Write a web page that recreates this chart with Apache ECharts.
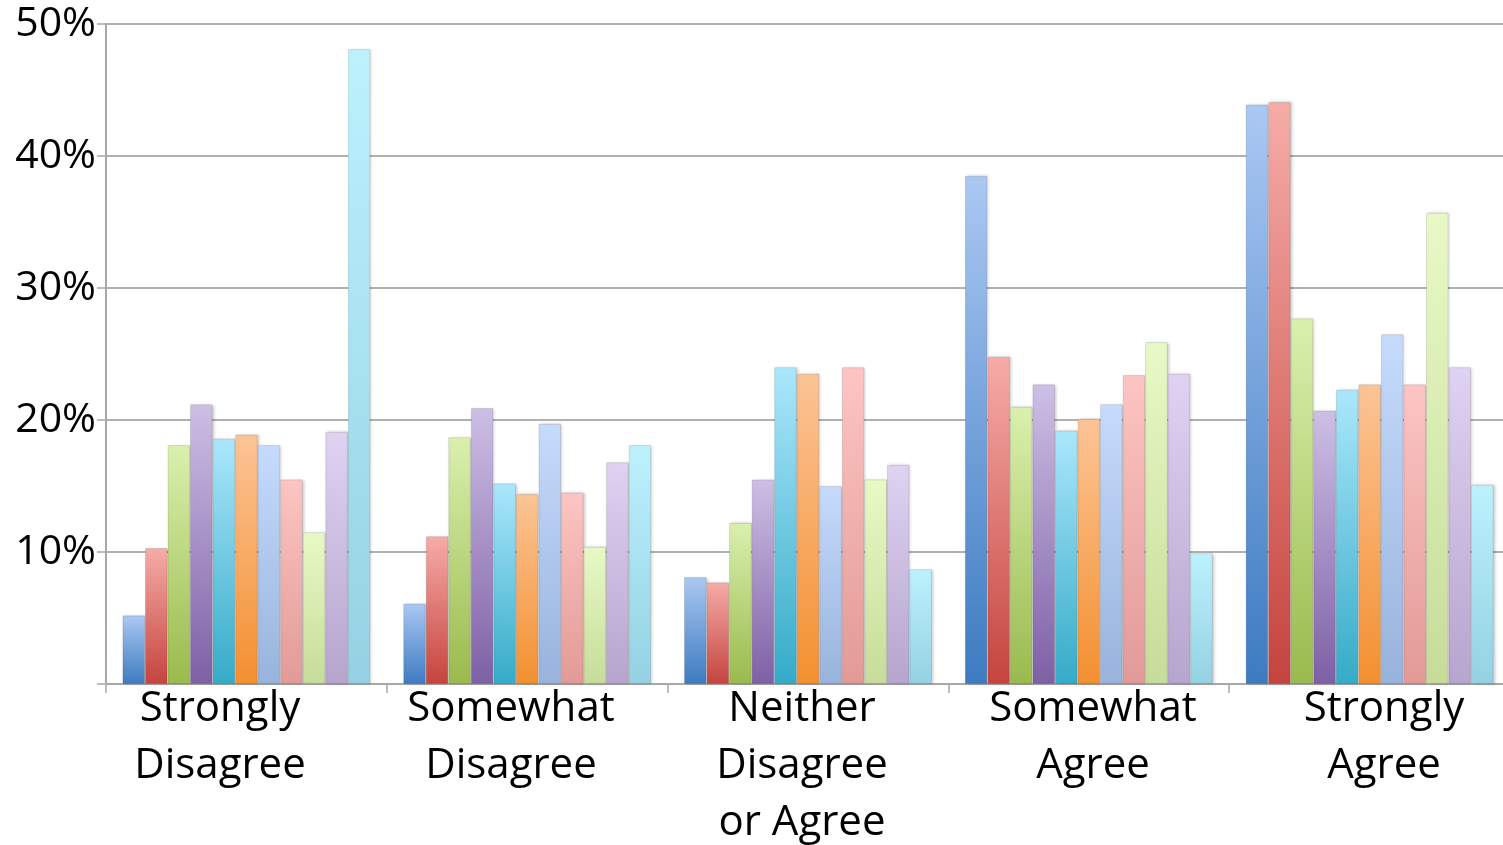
<!DOCTYPE html>
<html>
<head>
<meta charset="utf-8">
<title>Agreement distribution</title>
<script src="https://cdn.jsdelivr.net/npm/echarts@6/dist/echarts.min.js"></script>
<style>
  html, body { margin: 0; padding: 0; background: #ffffff; }
  #chart { width: 1503px; height: 845px; }
</style>
</head>
<body>
<div id="chart"></div>
<script>
// Response categories along the x axis
const categories = ['Strongly\nDisagree', 'Somewhat\nDisagree', 'Neither\nDisagree\nor Agree', 'Somewhat\nAgree', 'Strongly\nAgree'];

// Y axis ticks (percent)
const yTicks = [0, 10, 20, 30, 40, 50];

// Share of responses (%) per group, one value per category
const group1 = [5.2, 6.1, 8.1, 38.5, 43.9];
const group2 = [10.3, 11.2, 7.7, 24.8, 44.1];
const group3 = [18.1, 18.7, 12.2, 21.0, 27.7];
const group4 = [21.2, 20.9, 15.5, 22.7, 20.7];
const group5 = [18.6, 15.2, 24.0, 19.2, 22.3];
const group6 = [18.9, 14.4, 23.5, 20.1, 22.7];
const group7 = [18.1, 19.7, 15.0, 21.2, 26.5];
const group8 = [15.5, 14.5, 24.0, 23.4, 22.7];
const group9 = [11.5, 10.4, 15.5, 25.9, 35.7];
const group10 = [19.1, 16.8, 16.6, 23.5, 24.0];
const group11 = [48.1, 18.1, 8.7, 9.9, 15.1];

const groups = [group1, group2, group3, group4, group5, group6, group7, group8, group9, group10, group11];

// Top / bottom gradient colours for each group's bars
const palette = [
  ['#abc8f3', '#3d7bc1'],
  ['#f6aca8', '#c5443e'],
  ['#daf0ae', '#9aba4d'],
  ['#cdbfe5', '#7e60a5'],
  ['#abe7fc', '#35abc7'],
  ['#fcc496', '#f39030'],
  ['#c6dbfc', '#98b3dc'],
  ['#fcc5c3', '#e29a97'],
  ['#e8f9c6', '#c7dc9a'],
  ['#dfd2f2', '#b6a5ce'],
  ['#bdf1fe', '#94d2e3']
];

const FONT = '"Open Sans", "Noto Sans", sans-serif';

const chart = echarts.init(document.getElementById('chart'), null, { renderer: 'canvas' });

const series = groups.map((values, i) => ({
  name: 'Group ' + (i + 1),
  type: 'bar',
  xAxisIndex: 0,
  yAxisIndex: 0,
  data: values,
  barGap: '0%',
  barCategoryGap: '11.7%',
  itemStyle: {
    color: new echarts.graphic.LinearGradient(0, 0, 0, 1, [
      { offset: 0, color: palette[i][0] },
      { offset: 1, color: palette[i][1] }
    ]),
    borderColor: 'rgba(0,0,0,0.10)',
    borderWidth: 1,
    shadowColor: 'rgba(0,0,0,0.22)',
    shadowBlur: 3,
    shadowOffsetX: 1.5,
    shadowOffsetY: 0
  },
  emphasis: { disabled: true },
  animation: false
}));

chart.setOption({
  backgroundColor: '#ffffff',
  animation: false,
  grid: [
    // plot area (runs slightly past the right edge of the canvas)
    { left: 106, width: 1404, top: 24, bottom: 161, containLabel: false, outerBoundsMode: 'none' },
    // band used only to place the category names
    { left: 74.5, width: 1455, top: 24, bottom: 164, containLabel: false, outerBoundsMode: 'none' }
  ],
  xAxis: [
    {
      gridIndex: 0,
      type: 'category',
      data: categories,
      boundaryGap: true,
      axisLine: { show: true, lineStyle: { color: '#a8a8a8', width: 2 } },
      axisTick: { show: true, alignWithLabel: false, length: 9, lineStyle: { color: '#a8a8a8', width: 1.5 } },
      axisLabel: { show: false },
      splitLine: { show: false }
    },
    {
      gridIndex: 1,
      type: 'category',
      data: categories,
      boundaryGap: true,
      axisLine: { show: false },
      axisTick: { show: false },
      splitLine: { show: false },
      axisLabel: {
        show: true,
        interval: 0,
        margin: 0,
        color: '#000000',
        fontFamily: FONT,
        fontSize: 42,
        lineHeight: 57
      }
    }
  ],
  yAxis: [
    {
      gridIndex: 0,
      type: 'value',
      min: yTicks[0],
      max: yTicks[yTicks.length - 1],
      interval: 10,
      axisLine: { show: true, lineStyle: { color: '#a8a8a8', width: 2 } },
      axisTick: { show: true, inside: false, length: 9, lineStyle: { color: '#a8a8a8', width: 1.5 } },
      splitLine: { show: true, lineStyle: { color: '#b0b0b0', width: 2 } },
      axisLabel: {
        show: true,
        margin: 10,
        color: '#000000',
        fontFamily: FONT,
        fontSize: 41,
        padding: [8, 0, 0, 0],
        formatter: v => (v === 0 ? '' : v + '%')
      }
    },
    {
      gridIndex: 1,
      type: 'value',
      show: false,
      min: 0,
      max: 50
    }
  ],
  series: series
});
</script>
</body>
</html>
